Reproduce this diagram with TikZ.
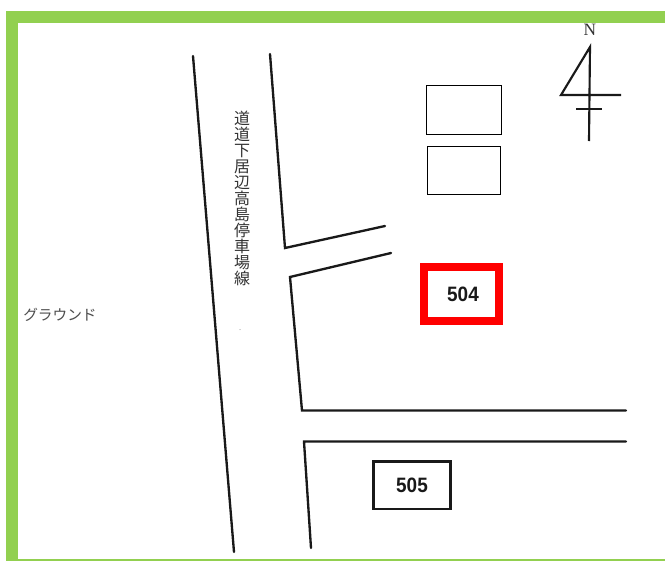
\documentclass[tikz,border=0pt]{standalone}
\usepackage{fontspec}
\setmainfont{Liberation Serif}
\setsansfont{Liberation Sans}
\newfontfamily\cjk{Noto Sans CJK JP}
\definecolor{framegreen}{HTML}{92D050}
\tikzset{
  road/.style={draw=black!90,line width=1.75pt,line join=miter,line cap=round},
  thinbox/.style={draw=black,line width=0.75pt},
  numlabel/.style={font=\sffamily\bfseries\fontsize{14.2}{16}\selectfont,text=black!90,inner sep=0pt,yscale=1.1},
  pointer/.style={draw=black!90,line width=1.6pt}
}
\begin{document}
\begin{tikzpicture}[x=0.75pt,y=-0.75pt]
\useasboundingbox (0,0) rectangle (665,561);
\fill[white] (0,0) rectangle (665,561);
% frame
\fill[framegreen] (6,11) rectangle (665,23);
\fill[framegreen] (6,11) rectangle (18,561);
\fill[framegreen] (18,559) rectangle (665,560.7);
% roads
\draw[road] (193,56) -- (234,552);
\draw[road] (270,54) -- (285,248) -- (385,226);
\draw[road] (391,253) -- (290,277) -- (302,410.5) -- (626,410.5);
\draw[road] (626,441.5) -- (304,441.5) -- (311,548);
% buildings
\draw[thinbox] (426,85) rectangle (501.5,134.5);
\draw[thinbox] (427,146) rectangle (500,194);
\draw[draw=red,line width=6pt] (424.3,267.2) rectangle (498.5,321.2);
\node[numlabel] (b504) at (463,294) {504};
\draw[draw=black!90,line width=1.6pt] (373.5,461.5) rectangle (450.5,508.8);
\node[numlabel] (b505) at (412,485) {505};
% labels
\node[font=\cjk\fontsize{12}{12}\selectfont,text=black!80,inner sep=0pt,align=center] (roadname) at (242,198.5)
  {道\\道\\下\\居\\辺\\高\\島\\停\\車\\場\\線};
\node[font=\cjk\fontsize{11}{12}\selectfont,text=black!70,inner sep=0pt,anchor=west] (ground) at (23,315) {グラウンド};
\fill[black!50] (240,329.5) circle (0.5);
% north arrow
\node[font=\rmfamily\fontsize{13}{14}\selectfont,text=black!80,inner sep=0pt] (north) at (590,29.5) {N};
\draw[pointer,line join=miter] (621,95) -- (561,95) -- (590,47) -- (589,141);
\draw[pointer] (576,109) -- (602,109);
\end{tikzpicture}
\end{document}
